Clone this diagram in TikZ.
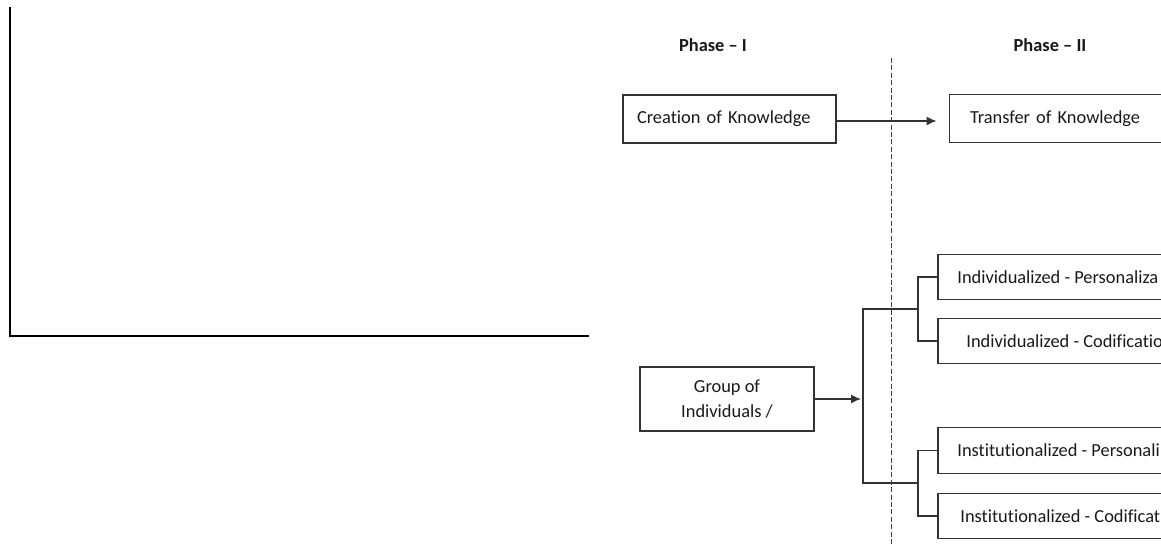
\documentclass[tikz,border=0pt]{standalone}
\usepackage{fontspec}
\setmainfont{Carlito}[Ligatures=NoCommon]
\usetikzlibrary{arrows.meta,calc}
\begin{document}
\begin{tikzpicture}[x=0.5pt,y=-0.5pt,
  ln/.style={draw=black!80, line width=0.7pt},
  axis/.style={draw=black, line width=1pt},
  dsh/.style={draw=black!75, line width=0.5pt, dash pattern=on 2.5pt off 1.2pt},
  arr/.style={ln, -{Latex[length=5pt,width=4.5pt]}},
  txt/.style={font=\fontsize{9.2}{12.5}\selectfont, text=black!90},
  head/.style={font=\fontsize{9.2}{11}\selectfont\bfseries, text=black!90, inner sep=0pt},
  lbox/.style={txt, ln, rectangle, inner ysep=0pt},
  obox/.style={txt, rectangle, inner sep=0pt, minimum width=111.5pt, minimum height=22pt}
]
\useasboundingbox (0,0) rectangle (1161,544);

% left axis lines
\coordinate (ytop) at (10,7);
\coordinate (orig) at (10,336);
\coordinate (xend) at (589,336);
\draw[axis] (ytop) -- (orig) -- (xend);

% headings
\node[head] (ph1) at (713,45) {Phase -- I};
\node[head] (ph2) at (1050,45) {Phase -- II};

% top row
\node[lbox, inner xsep=7pt, text width=92.5pt, align=left, minimum height=24pt] (ck) at (729.5,119) {Creation of Knowledge};
\node[txt, rectangle, inner xsep=10pt, inner ysep=0pt, text width=85.5pt, align=left, minimum height=23.5pt] (tk) at (1055.5,118.5) {Transfer of Knowledge};
\draw[ln] (tk.north east) -- (tk.north west) -- (tk.south west) -- (tk.south east);
\draw[arr, shorten >=6.5pt] ([yshift=-1pt]ck.east) -- ([yshift=-1pt]ck.east -| tk.west);

% group box
\node[lbox, inner xsep=0pt, minimum width=87pt, minimum height=32pt, align=center] (gi) at (727,399) {Group of\\Individuals /};

% right boxes
\node[obox, anchor=west] (ip) at (938,277) {\makebox[111.5pt][l]{\hspace*{9.5pt}Individualized - Personaliza}};
\node[obox, anchor=west] (ic) at (938,341) {\makebox[111.5pt][l]{\hspace*{14pt}Individualized - Codificatio}};
\node[obox, anchor=west, minimum height=22.5pt] (sp) at (938,450.5) {\makebox[111.5pt][l]{\hspace*{9.5pt}Institutionalized - Personali}};
\node[obox, anchor=west] (sc) at (938,516) {\makebox[111.5pt][l]{\hspace*{11pt}Institutionalized - Codificat}};
\foreach \b in {ip,ic,sp,sc}{
  \draw[ln] (\b.north east) -- (\b.north west) -- (\b.south west) -- (\b.south east);
}

% brackets
\coordinate (s1) at (918,309);
\coordinate (s2) at (918,483);
\coordinate (m1) at (863,309);
\coordinate (m2) at (863,483);
\draw[ln] (ip.west) -| (s1) |- (ic.west);
\draw[ln] (sp.west) -| (s2) |- (sc.west);
\draw[ln] (s1) -- (m1) -- (m2) -- (s2);
\draw[arr, shorten >=1pt] (gi.east) -- (gi.east -| m1);

% phase divider
\coordinate (dtop) at (891,58);
\coordinate (dbot) at (891,544);
\draw[dsh] (dtop) -- (dbot);
\end{tikzpicture}
\end{document}
